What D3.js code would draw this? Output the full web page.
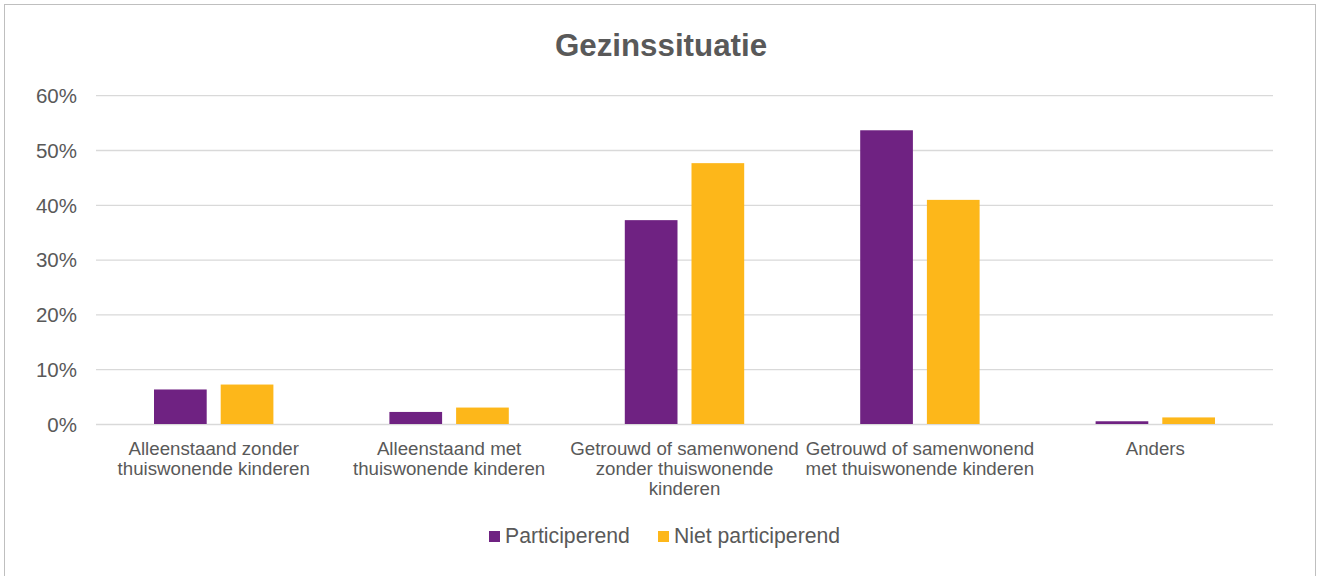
<!DOCTYPE html>
<html><head><meta charset="utf-8">
<script src="https://cdn.jsdelivr.net/npm/d3@7"></script>
<style>body{margin:0;background:#fff}svg{display:block}</style>
</head><body>
<svg id="c" width="1320" height="576"></svg>
<script>
const categories = [
  ["Alleenstaand zonder", "thuiswonende kinderen"],
  ["Alleenstaand met", "thuiswonende kinderen"],
  ["Getrouwd of samenwonend", "zonder thuiswonende", "kinderen"],
  ["Getrouwd of samenwonend", "met thuiswonende kinderen"],
  ["Anders"]
];
const seriesNames = ["Participerend", "Niet participerend"];
const participerend = [6.3, 2.2, 37.2, 53.6, 0.5];
const nietParticiperend = [7.2, 3.0, 47.6, 40.9, 1.2];
const yTicks = [0, 10, 20, 30, 40, 50, 60];
const colors = ["#6F2282", "#FDB71A"];

(function () {
const svg = d3.select("#c");
const font = "Liberation Sans, Arial, sans-serif";
const textColor = "#595959";

svg.append("rect").attr("x", 4.5).attr("y", 4.5).attr("width", 1311).attr("height", 580)
  .attr("fill", "#fff").attr("stroke", "#bfbfbf").attr("stroke-width", 1);

const pLeft = 96, pRight = 1273, pTop = 95.2, pBottom = 424;
const x = d3.scaleBand().domain(d3.range(categories.length)).range([pLeft, pRight]);
const y = d3.scaleLinear().domain([0, 60]).range([pBottom, pTop]);

svg.append("text").attr("x", 661).attr("y", 56).attr("text-anchor", "middle")
  .attr("font-family", font).attr("font-weight", "bold").attr("font-size", 31.3)
  .attr("fill", textColor).text("Gezinssituatie");

const yAxis = d3.axisLeft(y).tickValues(yTicks).tickSize(-(pRight - pLeft)).tickFormat(d => d + "%");
const ga = svg.append("g").attr("transform", `translate(${pLeft},0)`).call(yAxis);
ga.select(".domain").remove();
ga.selectAll(".tick line").attr("stroke", "#d9d9d9").attr("stroke-width", 1.3);
ga.selectAll(".tick text").attr("x", -19).attr("dy", "0.36em").attr("font-family", font).attr("font-size", 20.5)
  .attr("fill", textColor);

const barW = 52.7, gap = 14;
const data = [participerend, nietParticiperend];
data.forEach((vals, si) => {
  svg.append("g").selectAll("rect").data(vals).join("rect")
    .attr("x", (d, i) => x(i) + x.bandwidth() / 2 - gap / 2 - barW + si * (barW + gap))
    .attr("width", barW)
    .attr("y", d => y(d))
    .attr("height", d => y(0) - y(d))
    .attr("fill", colors[si]);
});

const labels = svg.append("g");
categories.forEach((lines, i) => {
  const t = labels.append("text").attr("text-anchor", "middle")
    .attr("font-family", font).attr("font-size", 18.7).attr("fill", textColor);
  lines.forEach((ln, j) => {
    t.append("tspan").attr("x", x(i) + x.bandwidth() / 2).attr("y", 455 + j * 19.8).text(ln);
  });
});

const legend = svg.append("g");
const legX = [489, 658];
seriesNames.forEach((n, i) => {
  legend.append("rect").attr("x", legX[i]).attr("y", 531).attr("width", 11).attr("height", 11).attr("fill", colors[i]);
  legend.append("text").attr("x", legX[i] + 16).attr("y", 542.7).attr("font-family", font)
    .attr("font-size", 21.2).attr("fill", textColor).text(n);
});
})();
</script>
</body></html>
